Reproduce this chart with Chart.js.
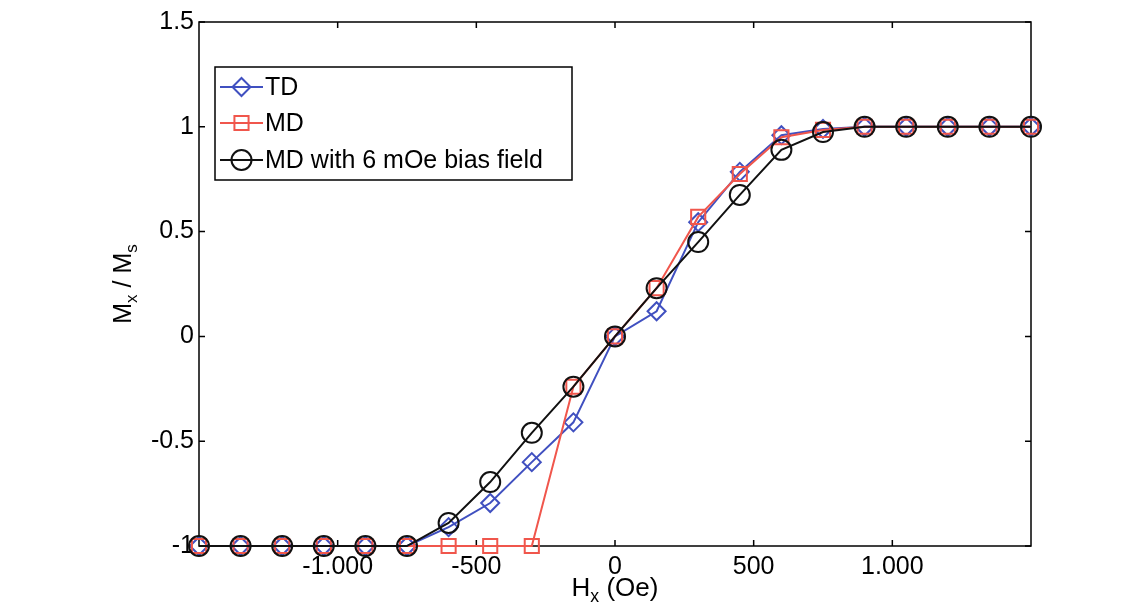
<!DOCTYPE html>
<html>
<head>
<meta charset="utf-8">
<script src="https://cdn.jsdelivr.net/npm/chart.js@4.4.1/dist/chart.umd.min.js"></script>
<style>
  html, body { margin: 0; padding: 0; background: #fff; }
  #wrap { width: 1140px; height: 616px; position: relative; }
</style>
</head>
<body>
<div id="wrap"><canvas id="hyst"></canvas></div>
<script>
// field values (Oe)
const hValues = [-1500, -1350, -1200, -1050, -900, -750, -600, -450, -300, -150, 0,
                 150, 300, 450, 600, 750, 900, 1050, 1200, 1350, 1500];
const tdValues = [-1, -1, -1, -1, -1, -1, -0.91, -0.795, -0.6, -0.41, 0,
                  0.12, 0.545, 0.785, 0.96, 0.99, 1, 1, 1, 1, 1];
const mdValues = [-1, -1, -1, -1, -1, -1, -1, -1, -1, -0.24, 0,
                  0.23, 0.57, 0.775, 0.95, 0.985, 1, 1, 1, 1, 1];
const mdBiasValues = [-1, -1, -1, -1, -1, -1, -0.89, -0.695, -0.46, -0.24, 0,
                      0.23, 0.45, 0.675, 0.89, 0.975, 1, 1, 1, 1, 1];
const xTicks = [-1000, -500, 0, 500, 1000];
const yTicks = [-1, -0.5, 0, 0.5, 1, 1.5];
const seriesNames = ['TD', 'MD', 'MD with 6 mOe bias field'];

const FONT = "'Liberation Sans', Arial, sans-serif";
const BLUE = '#4050c0';
const RED = '#f0564c';
const BLACK = '#111111';

const toPoints = ys => hValues.map((h, i) => ({ x: h, y: ys[i] }));

// europäische Tausendertrennung wie im Original (1.000)
const fmtThousands = v => {
    const s = Math.abs(v).toString().replace(/\B(?=(\d{3})+(?!\d))/g, '.');
    return (v < 0 ? '-' : '') + s;
};

function textWithSub(ctx, x, y, parts, size) {
    // parts: [[text, isSub], ...], drawn centred on x
    let total = 0;
    parts.forEach(([t, sub]) => {
        ctx.font = `${sub ? size * 0.68 : size}px ${FONT}`;
        total += ctx.measureText(t).width;
    });
    let cx = x - total / 2;
    parts.forEach(([t, sub]) => {
        ctx.font = `${sub ? size * 0.68 : size}px ${FONT}`;
        ctx.fillText(t, cx, sub ? y + size * 0.32 : y);
        cx += ctx.measureText(t).width;
    });
}

const framePlugin = {
    id: 'frame',
    beforeDatasetsDraw(chart) {
        const { ctx, chartArea: a, scales } = chart;
        ctx.save();
        ctx.strokeStyle = '#000';
        ctx.lineWidth = 1.5;
        ctx.strokeRect(a.left, a.top, a.right - a.left, a.bottom - a.top);
        const tl = 6;
        ctx.beginPath();
        xTicks.forEach(v => {
            const px = scales.x.getPixelForValue(v);
            ctx.moveTo(px, a.bottom); ctx.lineTo(px, a.bottom - tl);
            ctx.moveTo(px, a.top); ctx.lineTo(px, a.top + tl);
        });
        yTicks.forEach(v => {
            const py = scales.y.getPixelForValue(v);
            ctx.moveTo(a.left, py); ctx.lineTo(a.left + tl, py);
            ctx.moveTo(a.right, py); ctx.lineTo(a.right - tl, py);
        });
        ctx.stroke();
        ctx.restore();
    },
    afterDraw(chart) {
        const { ctx, chartArea: a } = chart;
        ctx.save();
        ctx.fillStyle = '#000';
        ctx.textBaseline = 'middle';
        ctx.textAlign = 'left';
        // axis titles with subscripts
        textWithSub(ctx, (a.left + a.right) / 2, 589, [['H', false], ['x', true], [' (Oe)', false]], 26);
        ctx.save();
        ctx.translate(124, (a.top + a.bottom) / 2);
        ctx.rotate(-Math.PI / 2);
        textWithSub(ctx, 0, 0, [['M', false], ['x', true], [' / M', false], ['s', true]], 25);
        ctx.restore();

        // legend box
        const lx = 215, ly = 67, lw = 357, lh = 113;
        ctx.fillStyle = '#fff';
        ctx.fillRect(lx, ly, lw, lh);
        ctx.strokeStyle = '#000';
        ctx.lineWidth = 1.5;
        ctx.strokeRect(lx, ly, lw, lh);
        const rows = [87, 123, 160];
        chart.data.datasets.forEach((ds, i) => {
            const y = rows[i];
            ctx.strokeStyle = ds.borderColor;
            ctx.lineWidth = 2;
            ctx.beginPath();
            ctx.moveTo(220, y); ctx.lineTo(263, y);
            ctx.stroke();
            ctx.fillStyle = 'rgba(0,0,0,0)';
            Chart.helpers.drawPoint(ctx, {
                pointStyle: ds.pointStyle, rotation: 0, borderWidth: 2, radius: ds.pointRadius
            }, 241.5, y);
            ctx.fillStyle = '#000';
            ctx.font = `25px ${FONT}`;
            ctx.fillText(ds.label, 265, y + 1);
        });
        ctx.restore();
    }
};

function makeDataset(label, values, color, style, radius, order) {
    return {
        label,
        data: toPoints(values),
        borderColor: color,
        borderWidth: 2,
        pointStyle: style,
        pointRadius: radius,
        pointBorderWidth: 2,
        pointBorderColor: color,
        pointBackgroundColor: 'rgba(0,0,0,0)',
        showLine: true,
        tension: 0,
        fill: false,
        clip: false,
        order
    };
}

const ctx = document.getElementById('hyst').getContext('2d');
new Chart(ctx, {
    type: 'scatter',
    data: {
        datasets: [
            makeDataset(seriesNames[0], tdValues, BLUE, 'rectRot', 9, 3),
            makeDataset(seriesNames[1], mdValues, RED, 'rect', 10, 2),
            makeDataset(seriesNames[2], mdBiasValues, BLACK, 'circle', 10, 1)
        ]
    },
    options: {
        responsive: true,
        maintainAspectRatio: false,
        animation: false,
        layout: { padding: { left: 0, right: 109, top: 22, bottom: 0 } },
        plugins: {
            legend: { display: false },
            tooltip: { enabled: false }
        },
        scales: {
            x: {
                type: 'linear',
                min: -1500,
                max: 1500,
                afterBuildTicks: scale => { scale.ticks = xTicks.map(v => ({ value: v })); },
                afterFit: scale => { scale.height = 70; },
                grid: { display: false, drawTicks: false },
                border: { display: false },
                ticks: {
                    color: '#000',
                    padding: 6,
                    maxRotation: 0,
                    autoSkip: false,
                    font: { size: 25, family: FONT },
                    callback: v => fmtThousands(v)
                }
            },
            y: {
                type: 'linear',
                min: -1,
                max: 1.5,
                afterBuildTicks: scale => { scale.ticks = yTicks.map(v => ({ value: v })); },
                afterFit: scale => { scale.width = 199; },
                grid: { display: false, drawTicks: false },
                border: { display: false },
                ticks: {
                    color: '#000',
                    padding: 5,
                    autoSkip: false,
                    font: { size: 25, family: FONT },
                    callback: v => String(+v.toFixed(1))
                }
            }
        }
    },
    plugins: [framePlugin]
});
</script>
</body>
</html>
